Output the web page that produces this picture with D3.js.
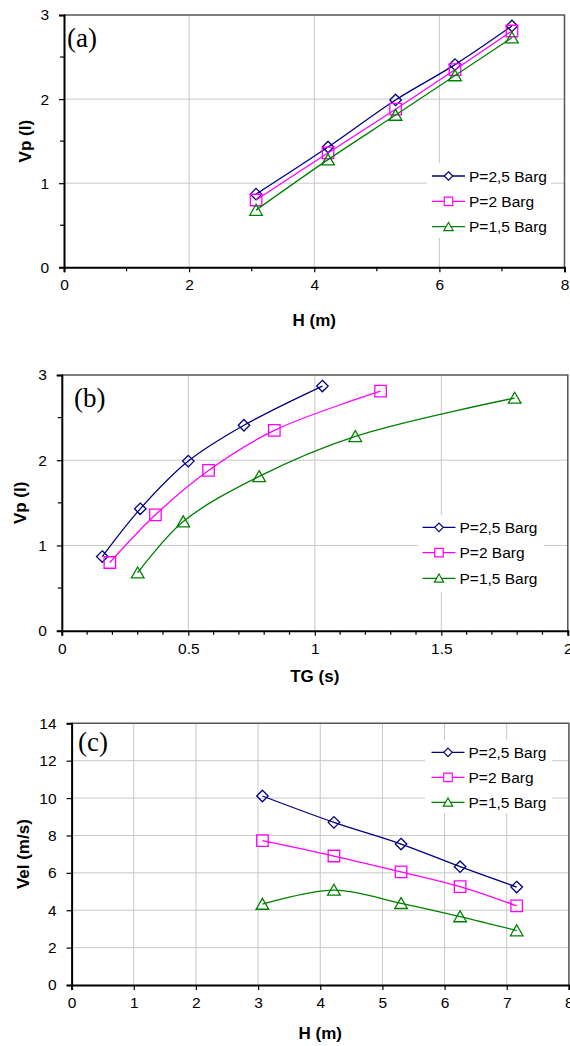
<!DOCTYPE html>
<html>
<head>
<meta charset="utf-8">
<script src="https://cdn.jsdelivr.net/npm/d3@7"></script>
<style>
  body { margin: 0; background: #fff; }
  text { font-family: "Liberation Sans", Arial, sans-serif; }
</style>
</head>
<body>
<div class="svg-chart"></div>
<script>
const seriesNames = ["P=2,5 Barg", "P=2 Barg", "P=1,5 Barg"];
const seriesColors = ["#000080", "#ff00ff", "#008000"];
const seriesSymbols = ["diamond", "square", "triangle"];

// heights H (m), same for all series
const H = [3.07, 4.22, 5.3, 6.25, 7.16];

// Vp (l)
const vp25 = [0.87, 1.43, 1.99, 2.41, 2.87];
const vp2 = [0.8, 1.36, 1.88, 2.35, 2.81];
const vp15 = [0.68, 1.28, 1.81, 2.28, 2.73];

// TG (s)
const tg25 = [0.16, 0.31, 0.5, 0.72, 1.03];
const tg2 = [0.19, 0.37, 0.58, 0.84, 1.26];
const tg15 = [0.3, 0.48, 0.78, 1.16, 1.79];

// Vel (m/s)
const vel25 = [10.11, 8.7, 7.54, 6.33, 5.24];
const vel2 = [7.72, 6.9, 6.05, 5.26, 4.23];
const vel15 = [4.33, 5.08, 4.37, 3.66, 2.91];

const ticksA = { x: [0, 2, 4, 6, 8], xMinor: [1, 3, 5, 7], y: [0, 1, 2, 3], yMinor: [0.5, 1.5, 2.5] };
const ticksB = {
  x: [0, 0.5, 1, 1.5, 2],
  xMinor: [0.1, 0.2, 0.3, 0.4, 0.6, 0.7, 0.8, 0.9, 1.1, 1.2, 1.3, 1.4, 1.6, 1.7, 1.8, 1.9],
  y: [0, 1, 2, 3],
  yMinor: [0.5, 1.5, 2.5],
};
const ticksC = { x: [0, 1, 2, 3, 4, 5, 6, 7, 8], xMinor: [], y: [0, 2, 4, 6, 8, 10, 12, 14], yMinor: [] };

const svg = d3.select(".svg-chart").append("svg").attr("width", 570).attr("height", 1046);

function symbolPath(type, size) {
  const s = size / 2;
  if (type === "diamond") return `M0,${-s}L${s},0L0,${s}L${-s},0Z`;
  if (type === "square") return `M${-s},${-s}H${s}V${s}H${-s}Z`;
  return `M0,${-s}L${s * 1.1},${s * 0.9}L${-s * 1.1},${s * 0.9}Z`;
}

function drawPanel(p) {
  const g = svg.append("g");
  const x = d3.scaleLinear().domain(p.xDomain).range([p.left, p.right]);
  const y = d3.scaleLinear().domain(p.yDomain).range([p.bottom, p.top]);

  // grid
  g.selectAll(".vgrid")
    .data(p.ticks.x.slice(1, -1))
    .enter()
    .append("line")
    .attr("x1", (d) => x(d)).attr("x2", (d) => x(d))
    .attr("y1", p.top).attr("y2", p.bottom)
    .attr("stroke", "#c8c8c8").attr("stroke-width", 1);
  g.selectAll(".hgrid")
    .data(p.ticks.y.slice(1, -1))
    .enter()
    .append("line")
    .attr("x1", p.left).attr("x2", p.right)
    .attr("y1", (d) => y(d)).attr("y2", (d) => y(d))
    .attr("stroke", "#c8c8c8").attr("stroke-width", 1);

  // top / right frame
  g.append("path")
    .attr("d", `M${p.left},${p.top}H${p.right}V${p.bottom}`)
    .attr("fill", "none").attr("stroke", "#555").attr("stroke-width", 1.5);

  // axes
  const xAxis = d3.axisBottom(x).tickValues(p.ticks.x).tickSize(5).tickPadding(7)
    .tickFormat(d3.format("~g"));
  const yAxis = d3.axisLeft(y).tickValues(p.ticks.y).tickSize(5).tickPadding(7)
    .tickFormat(d3.format("~g"));
  const gx = g.append("g").attr("transform", `translate(0,${p.bottom})`).call(xAxis);
  const gy = g.append("g").attr("transform", `translate(${p.left},0)`).call(yAxis);
  [gx, gy].forEach((ax) => {
    ax.select(".domain").attr("stroke", "#000").attr("stroke-width", 2);
    ax.selectAll(".tick line").attr("stroke", "#000").attr("stroke-width", 1.2);
    ax.selectAll("text").attr("font-size", 15.5).attr("fill", "#000");
  });
  gy.selectAll("text").attr("dx", "-3");
  g.selectAll(".xminor")
    .data(p.ticks.xMinor)
    .enter()
    .append("line")
    .attr("x1", (d) => x(d)).attr("x2", (d) => x(d))
    .attr("y1", p.bottom).attr("y2", p.bottom + 4)
    .attr("stroke", "#000").attr("stroke-width", 1.2);
  g.selectAll(".yminor")
    .data(p.ticks.yMinor)
    .enter()
    .append("line")
    .attr("x1", p.left - 4).attr("x2", p.left)
    .attr("y1", (d) => y(d)).attr("y2", (d) => y(d))
    .attr("stroke", "#000").attr("stroke-width", 1.2);

  // axis titles
  g.append("text")
    .attr("x", (p.left + p.right) / 2)
    .attr("y", p.xTitleY)
    .attr("text-anchor", "middle")
    .attr("font-size", 17).attr("font-weight", "bold")
    .text(p.xTitle);
  g.append("text")
    .attr("transform", `translate(${p.yTitleX},${(p.top + p.bottom) / 2}) rotate(-90)`)
    .attr("text-anchor", "middle")
    .attr("dy", "0.35em")
    .attr("font-size", 17).attr("font-weight", "bold")
    .text(p.yTitle);

  // panel label (serif)
  g.append("text")
    .attr("x", p.label[1]).attr("y", p.label[2])
    .style("font-family", '"Liberation Serif", "Times New Roman", serif')
    .attr("font-size", 27)
    .text(p.label[0]);

  // series
  const line = d3.line().x((d) => x(d[0])).y((d) => y(d[1])).curve(d3.curveCatmullRom.alpha(0.5));
  p.series.forEach((s, i) => {
    const pts = s.xs.map((v, j) => [v, s.ys[j]]);
    g.append("path")
      .attr("d", line(pts))
      .attr("fill", "none")
      .attr("stroke", seriesColors[i])
      .attr("stroke-width", 1.3);
    g.selectAll(".m" + i)
      .data(pts)
      .enter()
      .append("path")
      .attr("transform", (d) => `translate(${x(d[0])},${y(d[1])})`)
      .attr("d", symbolPath(seriesSymbols[i], 11.5))
      .attr("fill", "none")
      .attr("stroke", seriesColors[i])
      .attr("stroke-width", 1.3);
  });

  // legend
  const lg = g.append("g");
  lg.append("rect")
    .attr("x", p.legend.x0).attr("y", p.legend.y0)
    .attr("width", p.legend.w).attr("height", p.legend.h)
    .attr("fill", "#fff");
  seriesNames.forEach((name, i) => {
    const cy = p.legend.rows[i];
    lg.append("line")
      .attr("x1", p.legend.lx0).attr("x2", p.legend.lx0 + 33)
      .attr("y1", cy).attr("y2", cy)
      .attr("stroke", seriesColors[i]).attr("stroke-width", 1.3);
    lg.append("path")
      .attr("transform", `translate(${p.legend.lx0 + 16.5},${cy})`)
      .attr("d", symbolPath(seriesSymbols[i], 8.5))
      .attr("fill", "#fff")
      .attr("stroke", seriesColors[i])
      .attr("stroke-width", 1.2);
    lg.append("text")
      .attr("x", p.legend.lx0 + 37).attr("y", cy)
      .attr("dy", "0.36em")
      .attr("font-size", 15.5)
      .text(name);
  });
}

drawPanel({
  left: 64, right: 564.5, top: 15, bottom: 267.3,
  xDomain: [0, 8], yDomain: [0, 3], ticks: ticksA,
  xTitle: "H (m)", yTitle: "Vp (l)", xTitleY: 326, yTitleX: 25,
  label: ["(a)", 67, 47],
  series: [
    { xs: H, ys: vp25 },
    { xs: H, ys: vp2 },
    { xs: H, ys: vp15 },
  ],
  legend: { x0: 427, y0: 163, w: 124, h: 75, lx0: 432, rows: [176, 201.3, 226.7] },
});

drawPanel({
  left: 61.8, right: 567.8, top: 375, bottom: 630.7,
  xDomain: [0, 2], yDomain: [0, 3], ticks: ticksB,
  xTitle: "TG (s)", yTitle: "Vp (l)", xTitleY: 682, yTitleX: 20,
  label: ["(b)", 74, 407],
  series: [
    { xs: tg25, ys: vp25 },
    { xs: tg2, ys: vp2 },
    { xs: tg15, ys: vp15 },
  ],
  legend: { x0: 418, y0: 515, w: 126, h: 77, lx0: 422.5, rows: [527.3, 552.7, 578.3] },
});

drawPanel({
  left: 71.6, right: 568.9, top: 723.3, bottom: 985,
  xDomain: [0, 8], yDomain: [0, 14], ticks: ticksC,
  xTitle: "H (m)", yTitle: "Vel (m/s)", xTitleY: 1039, yTitleX: 23,
  label: ["(c)", 78, 751],
  series: [
    { xs: H, ys: vel25 },
    { xs: H, ys: vel2 },
    { xs: H, ys: vel15 },
  ],
  legend: { x0: 425, y0: 740, w: 127, h: 73, lx0: 431.5, rows: [752.3, 777.3, 802.3] },
});
</script>
</body>
</html>
